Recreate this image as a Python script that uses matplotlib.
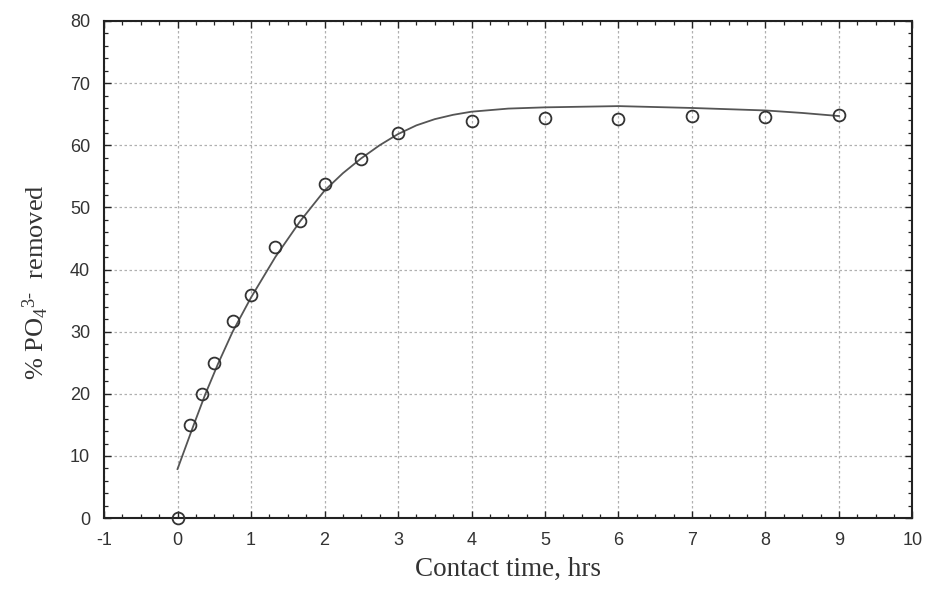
import numpy as np
import matplotlib
matplotlib.use('Agg')
import matplotlib.pyplot as plt
from matplotlib.ticker import MultipleLocator

# measured points (contact time in hrs, % removed)
time_hrs = [0, 0.17, 0.33, 0.5, 0.75, 1.0, 1.33, 1.67, 2.0, 2.5, 3.0, 4, 5, 6, 7, 8, 9]
removed = [0, 15.0, 20.0, 25.0, 31.7, 35.9, 43.7, 47.8, 53.8, 57.8, 62.0, 63.9, 64.4, 64.3, 64.7, 64.5, 64.8]

# fitted curve
fit_t = [0, 0.22, 0.38, 0.55, 0.75, 1.0, 1.33, 1.67, 2.0, 2.25, 2.5, 2.75, 3.0, 3.25, 3.5, 3.75,
         4.0, 4.5, 5.0, 6.0, 7.0, 8.0, 8.5, 9.0]
fit_y = [7.9, 15.0, 20.0, 24.8, 30.0, 35.5, 42.0, 47.8, 52.7, 55.5, 57.9, 60.0, 61.8, 63.2, 64.2, 64.9,
         65.4, 65.9, 66.1, 66.3, 66.0, 65.6, 65.2, 64.7]

plt.rcParams['mathtext.fontset'] = 'custom'
plt.rcParams['mathtext.rm'] = 'Liberation Serif'
plt.rcParams['mathtext.it'] = 'Liberation Serif:italic'
plt.rcParams['axes.unicode_minus'] = False

fig = plt.figure(figsize=(9.5, 5.99), dpi=100)
ax = fig.add_axes([0.1095, 0.135, 0.851, 0.83])

ax.plot(fit_t, fit_y, color='#555555', lw=1.3, zorder=3)
ax.plot(time_hrs, removed, 'o', ms=8.5, mfc='none', mec='#333333', mew=1.3, zorder=4, clip_on=False)

ax.set_xlim(-1, 10)
ax.set_ylim(0, 80)
ax.xaxis.set_major_locator(MultipleLocator(1))
ax.xaxis.set_minor_locator(MultipleLocator(0.25))
ax.yaxis.set_major_locator(MultipleLocator(10))
ax.yaxis.set_minor_locator(MultipleLocator(2))

ax.grid(True, which='major', color='#b0b0b0', linestyle=(0, (2, 2)), lw=0.9)
ax.tick_params(which='both', direction='in', top=True, right=True, color='#222222')
ax.tick_params(which='major', length=5, width=1.0, labelsize=13, labelcolor='#333333', pad=10)
ax.tick_params(which='minor', length=3, width=0.9)
for lab in ax.get_xticklabels() + ax.get_yticklabels():
    lab.set_family('Liberation Sans')
for s in ax.spines.values():
    s.set_linewidth(1.5)
    s.set_color('#222222')

ax.set_xlabel('Contact time, hrs', family='Liberation Serif', fontsize=19.5, color='#333333', labelpad=6)
ax.set_ylabel(r'% PO$_4$$^{3\text{-}}$  removed', family='Liberation Serif', fontsize=19,
              color='#333333')
ax.yaxis.set_label_coords(-0.066, 0.475)

fig.savefig('out.png', dpi=100)
